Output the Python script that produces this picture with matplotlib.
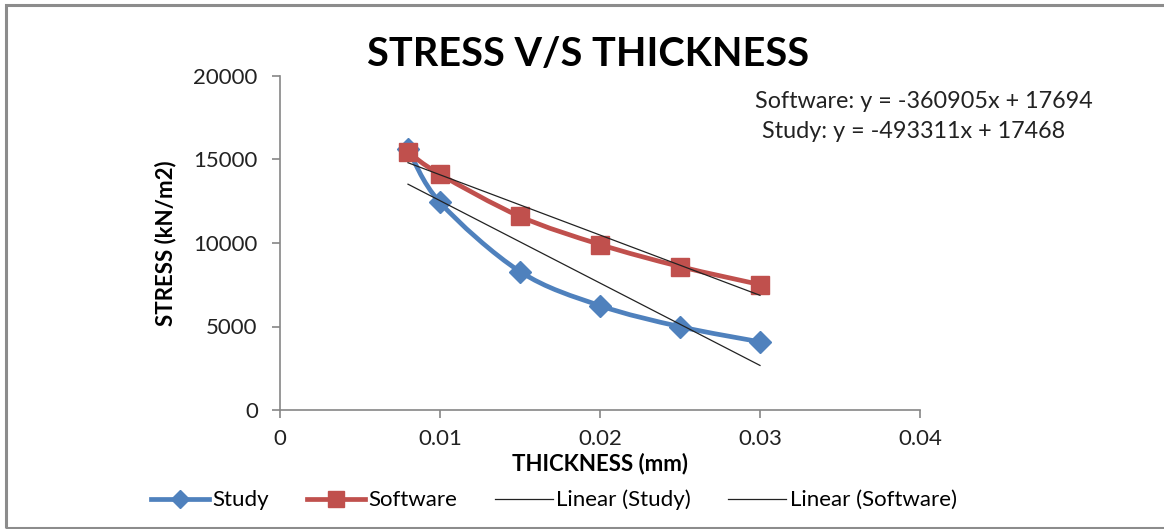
import numpy as np
import matplotlib
matplotlib.use('Agg')
import matplotlib.pyplot as plt
from matplotlib.path import Path
from matplotlib.patches import PathPatch, Rectangle
from matplotlib.lines import Line2D

plt.rcParams['font.family'] = ['Lato', 'DejaVu Sans']

# data
thickness = [0.008, 0.01, 0.015, 0.02, 0.025, 0.03]
stress_study = [15650, 12430, 8290, 6250, 4990, 4080]
stress_software = [15440, 14110, 11590, 9910, 8590, 7510]

# trendline coefficients as printed on the chart
trend_study = (-493311, 17468)
trend_software = (-360905, 17694)

blue = '#4F81BD'
red = '#C0504D'
axis_grey = '#868686'
fs = 16


def smooth_path(x, y):
    # excel style smoothed line: bezier segments through the points
    pts = np.column_stack([x, y]).astype(float)
    n = len(pts)
    verts = [pts[0]]
    codes = [Path.MOVETO]
    for i in range(n - 1):
        p0 = pts[max(i - 1, 0)]
        p1 = pts[i]
        p2 = pts[i + 1]
        p3 = pts[min(i + 2, n - 1)]
        c1 = p1 + (p2 - p0) / 6
        c2 = p2 - (p3 - p1) / 6
        verts += [c1, c2, p2]
        codes += [Path.CURVE4] * 3
    return Path(verts, codes)


fig = plt.figure(figsize=(11.64, 5.29), dpi=100)
ax = fig.add_axes([280 / 1164, 1 - 410 / 529, 640 / 1164, 334 / 529])

ax.add_patch(PathPatch(smooth_path(thickness, stress_study), fill=False,
                       edgecolor=blue, lw=3.4, zorder=2, capstyle='round'))
ax.plot(thickness, stress_study, ls='none', marker='D', ms=11,
        color=blue, zorder=3)
ax.add_patch(PathPatch(smooth_path(thickness, stress_software), fill=False,
                       edgecolor=red, lw=3.4, zorder=4, capstyle='round'))
ax.plot(thickness, stress_software, ls='none', marker='s', ms=13,
        color=red, zorder=5)

xt = np.array([thickness[0], thickness[-1]])
ax.plot(xt, trend_study[0] * xt + trend_study[1], color='#222222', lw=0.9, zorder=6)
ax.plot(xt, trend_software[0] * xt + trend_software[1], color='#222222', lw=0.9, zorder=6)

ax.set_xlim(0, 0.04)
ax.set_ylim(0, 20000)
ax.set_xticks([0, 0.01, 0.02, 0.03, 0.04])
ax.set_xticklabels(['0', '0.01', '0.02', '0.03', '0.04'])
ax.set_yticks([0, 5000, 10000, 15000, 20000])
ax.set_yticklabels(['0', '5000', '10000', '15000', '20000'])

for side in ['top', 'right']:
    ax.spines[side].set_visible(False)
for side in ['left', 'bottom']:
    ax.spines[side].set_color(axis_grey)
    ax.spines[side].set_linewidth(1.2)
ax.tick_params(colors=axis_grey, labelcolor='#222222', labelsize=fs,
               length=6, width=1.2)
ax.tick_params(axis='x', pad=8)
ax.tick_params(axis='y', pad=10)

ax.set_xlabel('THICKNESS (mm)', fontsize=fs, fontweight='bold', labelpad=2)
ax.set_ylabel('STRESS (kN/m2)', fontsize=fs, fontweight='bold', labelpad=12)

fig.text(588 / 1164, 1 - 54 / 529, 'STRESS V/S THICKNESS', ha='center',
         va='center', fontsize=28.5, fontweight='bold')

fig.text(755 / 1164, 1 - 101 / 529, 'Software: y = -360905x + 17694',
         ha='left', va='center', fontsize=16.8, color='#222222')
fig.text(762 / 1164, 1 - 131 / 529, 'Study: y = -493311x + 17468',
         ha='left', va='center', fontsize=16.8, color='#222222')

handles = [
    Line2D([], [], color=blue, lw=3.4, marker='D', ms=9),
    Line2D([], [], color=red, lw=3.4, marker='s', ms=11),
    Line2D([], [], color='#222222', lw=0.9),
    Line2D([], [], color='#222222', lw=0.9),
]
labels = ['Study', 'Software', 'Linear (Study)', 'Linear (Software)']
fig.legend(handles, labels, loc='center', bbox_to_anchor=(554 / 1164, 1 - 500 / 529),
           ncol=4, frameon=False, fontsize=fs, handlelength=2.6,
           handletextpad=0.15, columnspacing=1.7)

# chart border
fig.patches.append(Rectangle((6 / 1164, 1 / 529), 1.0, 1 - 6 / 529,
                             transform=fig.transFigure, fill=False,
                             edgecolor='#8c8c8c', lw=2.2))

fig.savefig('out.png', dpi=100)
